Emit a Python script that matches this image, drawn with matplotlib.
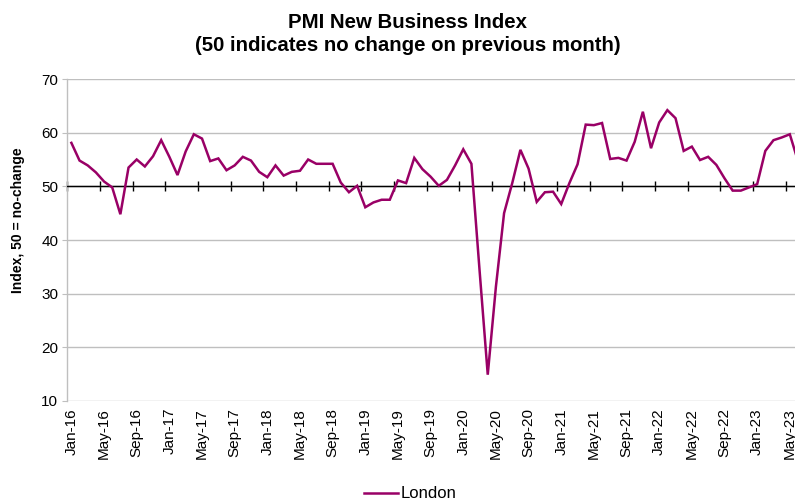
import numpy as np
import matplotlib
matplotlib.use("Agg")
import matplotlib.pyplot as plt

plt.rcParams['font.family'] = ['Liberation Sans', 'DejaVu Sans']

# monthly values, Jan-16 onwards (last point is cut off by the right edge)
months = ['Jan', 'Feb', 'Mar', 'Apr', 'May', 'Jun',
          'Jul', 'Aug', 'Sep', 'Oct', 'Nov', 'Dec']
years = ['16', '17', '18', '19', '20', '21', '22', '23']
london = [
    58.1, 54.8, 53.9, 52.6, 50.9, 49.8, 44.8, 53.5, 55.0, 53.7, 55.6, 58.6,  # 2016
    55.5, 52.1, 56.5, 59.7, 58.9, 54.7, 55.2, 53.0, 53.9, 55.5, 54.8, 52.7,  # 2017
    51.7, 53.9, 52.0, 52.7, 52.9, 55.0, 54.2, 54.2, 54.2, 50.7, 48.9, 50.1,  # 2018
    46.1, 47.0, 47.5, 47.5, 51.1, 50.6, 55.3, 53.2, 51.8, 50.1, 51.2, 53.9,  # 2019
    56.9, 54.2, 34.3, 14.9, 31.3, 45.0, 50.6, 56.8, 53.3, 47.1, 48.9, 49.0,  # 2020
    46.7, 50.6, 54.1, 61.5, 61.4, 61.8, 55.1, 55.3, 54.8, 58.3, 63.9, 57.1,  # 2021
    61.9, 64.2, 62.7, 56.6, 57.4, 54.9, 55.5, 54.0, 51.5, 49.2, 49.2, 49.8,  # 2022
    50.4, 56.6, 58.6, 59.1, 59.7, 54.7,                                      # 2023
]
labels = [m + '-' + y for y in years for m in months][:len(london)]
y_ticks = [10, 20, 30, 40, 50, 60, 70]

W, H = 795, 501
fig = plt.figure(figsize=(W / 100, H / 100), dpi=100)

# plot area runs a bit past the right edge (picture is cropped)
n = len(london)
left_px, right_px, top_px, bottom_px = 67.3, 67.3 + n * 8.164, 79, 401
ax = fig.add_axes([left_px / W, (H - bottom_px) / H,
                   (right_px - left_px) / W, (bottom_px - top_px) / H])

x = np.arange(n)
color = '#990066'
ax.plot(x, london, color=color, lw=1.8, solid_joinstyle='miter', label='London', zorder=4)

ax.set_xlim(-0.5, n - 0.5)
ax.set_ylim(y_ticks[0], y_ticks[-1])
ax.set_yticks(y_ticks)
ax.yaxis.grid(True, color='#bfbfbf', lw=1.0)
ax.set_axisbelow(True)
ax.tick_params(axis='y', length=3.5, color='#bfbfbf', labelsize=11, pad=3)

for s in ['top', 'right', 'bottom']:
    ax.spines[s].set_visible(False)
ax.spines['left'].set_color('#bfbfbf')
ax.spines['left'].set_linewidth(1.0)

# category labels every 4 months at the bottom
ax.set_xticks(x[::4])
ax.set_xticklabels(labels[::4], rotation=90, fontsize=11)
ax.tick_params(axis='x', length=0, pad=5)

# horizontal axis crossing at 50 with tick marks between categories
ax.axhline(50, color='black', lw=1.0, zorder=3)
cross = (50 - y_ticks[0]) / (y_ticks[-1] - y_ticks[0])
sec = ax.secondary_xaxis(cross)
sec.set_xticks(np.arange(-0.5, n, 4))
sec.set_xticklabels([])
sec.tick_params(axis='x', direction='inout', length=7, width=1.0, color='black')
sec.spines['bottom'].set_visible(False)

fig.text(408 / W, 1 - 22 / H, 'PMI New Business Index',
         ha='center', va='center', fontsize=14.7, fontweight='bold')
fig.text(408 / W, 1 - 45.5 / H, '(50 indicates no change on previous month)',
         ha='center', va='center', fontsize=14.7, fontweight='bold')
fig.text(18 / W, 1 - 220 / H, 'Index, 50 = no-change', rotation=90,
         ha='center', va='center', fontsize=10, fontweight='bold')

fig.legend(loc='center', bbox_to_anchor=(410 / W, 1 - 494 / H), frameon=False,
           fontsize=12, handlelength=2.05, handletextpad=0.15)

fig.savefig('out.png', dpi=100)
